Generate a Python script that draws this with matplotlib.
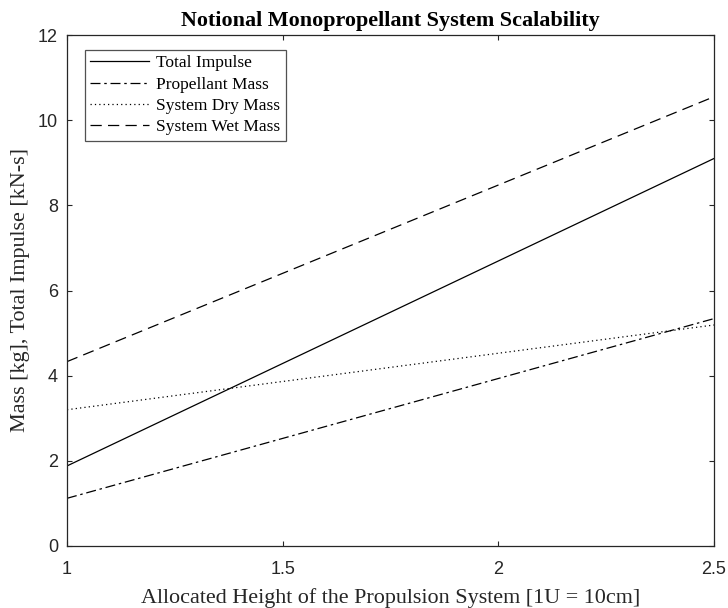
import matplotlib
matplotlib.use("Agg")
import matplotlib.pyplot as plt

height_u = [1.0, 2.5]
total_impulse = [1.88, 9.10]
propellant_mass = [1.12, 5.34]
dry_mass = [3.20, 5.19]
wet_mass = [4.33, 10.55]

labels = ["Total Impulse", "Propellant Mass", "System Dry Mass", "System Wet Mass"]
xticks = [1, 1.5, 2, 2.5]
xticklabels = ["1", "1.5", "2", "2.5"]
yticks = [0, 2, 4, 6, 8, 10, 12]

fig = plt.figure(figsize=(7.28, 6.08), dpi=100)
ax = fig.add_axes([67 / 728, 62 / 608, 647 / 728, 511 / 608])

lc = "#262626"
ax.plot(height_u, total_impulse, color="black", lw=0.9, ls="-", label=labels[0])
ax.plot(height_u, propellant_mass, color="black", lw=0.9, ls=(0, (8, 3, 2, 3)), label=labels[1])
ax.plot(height_u, dry_mass, color="black", lw=0.9, ls=(0, (1, 2.5)), label=labels[2])
ax.plot(height_u, wet_mass, color="black", lw=0.9, ls=(0, (9, 5)), label=labels[3])

ax.set_xlim(1, 2.5)
ax.set_ylim(0, 12)
ax.set_xticks(xticks)
ax.set_xticklabels(xticklabels)
ax.set_yticks(yticks)
ax.tick_params(direction="in", length=3.6, width=0.8, colors=lc, labelsize=13,
               top=True, right=True, labelcolor=lc)
ax.tick_params(axis="x", pad=10.5)
ax.tick_params(axis="y", pad=6.5)
for lab in ax.get_xticklabels() + ax.get_yticklabels():
    lab.set_family("Liberation Sans")
for s in ax.spines.values():
    s.set_color(lc)
    s.set_linewidth(0.9)

xl = ax.set_xlabel("Allocated Height of the Propulsion System [1U = 10cm]",
                   family="Liberation Serif", fontsize=15, color=lc)
yl = ax.set_ylabel("Mass [kg], Total Impulse [kN-s]",
                   family="Liberation Serif", fontsize=15, color=lc)
tt = ax.set_title("Notional Monopropellant System Scalability",
                  family="Liberation Serif", fontsize=15, fontweight="bold", pad=6.5)

# size the texts so their widths match the reference (pixels)
fig.canvas.draw()
r = fig.canvas.get_renderer()
for t, target in ((tt, 420.0), (xl, 502.0)):
    w = t.get_window_extent(r).width
    t.set_fontsize(t.get_fontsize() * target / w)
yl.set_fontsize(xl.get_fontsize())

ax.xaxis.label.set_va("baseline")
ax.xaxis.set_label_coords(0.5, -57 / 511)
ax.yaxis.label.set_va("baseline")
ax.yaxis.set_label_coords(-42 / 647, 0.5)

leg = ax.legend(loc="upper left", bbox_to_anchor=(18 / 647, 1 - 15 / 511), frameon=True,
                fancybox=False, edgecolor=lc, handlelength=3.4, handletextpad=0.4,
                borderpad=0.3, labelspacing=0.3, borderaxespad=0,
                prop={"family": "Liberation Serif", "size": 12.5})
leg.get_frame().set_linewidth(0.9)

fig.savefig("out.png", dpi=100)
